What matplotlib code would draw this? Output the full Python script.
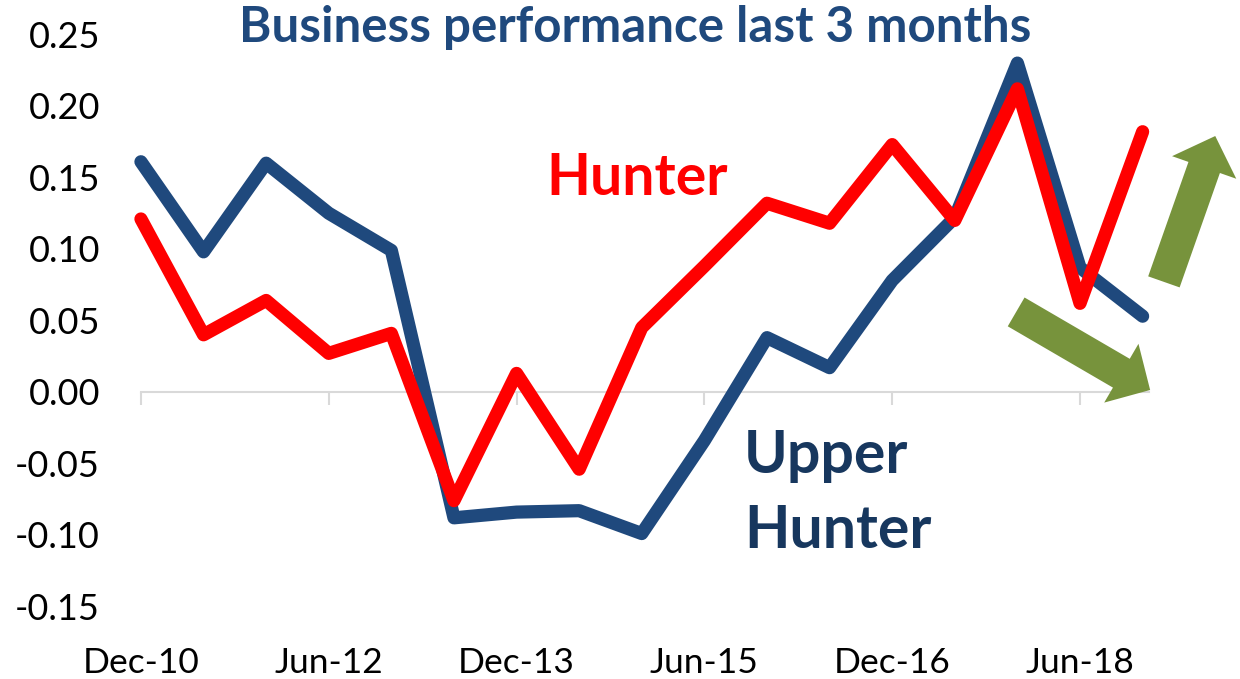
import matplotlib
matplotlib.use("Agg")
import matplotlib.pyplot as plt
from matplotlib.patches import FancyArrowPatch

plt.rcParams['font.family'] = ['Lato', 'DejaVu Sans']

# half-yearly periods, Dec-10 .. Dec-18
periods = ['Dec-10', 'Jun-11', 'Dec-11', 'Jun-12', 'Dec-12', 'Jun-13', 'Dec-13',
           'Jun-14', 'Dec-14', 'Jun-15', 'Dec-15', 'Jun-16', 'Dec-16', 'Jun-17',
           'Dec-17', 'Jun-18', 'Dec-18']
upper_hunter = [0.161, 0.098, 0.160, 0.125, 0.099, -0.088, -0.084, -0.083, -0.099,
                -0.034, 0.038, 0.017, 0.078, 0.122, 0.230, 0.087, 0.053]
hunter = [0.121, 0.040, 0.064, 0.027, 0.041, -0.076, 0.013, -0.054, 0.045,
          0.088, 0.132, 0.118, 0.173, 0.120, 0.212, 0.062, 0.182]
yticks = [-0.15, -0.10, -0.05, 0.00, 0.05, 0.10, 0.15, 0.20, 0.25]
label_every = 3

BLUE = '#1F497D'
NAVY = '#17375E'
RED = '#FF0000'
GREEN = '#77933C'
GRID = '#D9D9D9'

fig = plt.figure(figsize=(12.4, 6.79), dpi=100)
ax = fig.add_axes([0.1086, 0.1068, 0.8886, 0.8424])

x = list(range(len(periods)))
ax.plot(x, upper_hunter, color=BLUE, lw=9.5, solid_joinstyle='round',
        solid_capstyle='round', clip_on=False, zorder=3)
ax.plot(x, hunter, color=RED, lw=9.5, solid_joinstyle='round',
        solid_capstyle='round', clip_on=False, zorder=4)

ax.set_xlim(-0.1, 17.5)
ax.set_ylim(-0.15, 0.25)

for s in ['top', 'right', 'left']:
    ax.spines[s].set_visible(False)
ax.spines['bottom'].set_position(('data', 0))
ax.spines['bottom'].set_bounds(0, len(periods) - 0.9)
ax.spines['bottom'].set_color(GRID)
ax.spines['bottom'].set_linewidth(1.5)

tick_pos = x[::label_every]
ax.set_xticks(tick_pos)
ax.tick_params(axis='x', direction='out', length=9, width=1.5, color=GRID,
               labelbottom=False)
ax.set_yticks(yticks)
ax.set_yticklabels([f'{v:.2f}' for v in yticks])
ax.tick_params(axis='y', length=0, pad=25, labelsize=26)

sec = ax.secondary_xaxis('bottom')
sec.set_xticks(tick_pos)
sec.set_xticklabels([periods[i] for i in tick_pos])
sec.tick_params(length=0, pad=29, labelsize=25.5)
sec.spines['bottom'].set_visible(False)

# series labels
ax.text(6.47, 0.138, 'Hunter', color=RED, fontsize=41, fontweight='bold',
        ha='left', va='baseline')
ax.text(9.63, -0.0566, 'Upper', color=NAVY, fontsize=42.5, fontweight='bold',
        ha='left', va='baseline')
ax.text(9.63, -0.109, 'Hunter', color=NAVY, fontsize=42.5, fontweight='bold',
        ha='left', va='baseline')

fig.text(0.512, 0.938, 'Business performance last 3 months', color=BLUE,
         fontsize=35.5, fontweight='bold', ha='center', va='baseline')

# direction arrows
style = 'simple,head_length=24,head_width=49,tail_width=24'
for start, end in [((16.34, 0.077), (17.16, 0.179)),
                   ((13.98, 0.056), (16.12, 0.0014))]:
    arr = FancyArrowPatch(start, end, arrowstyle=style, mutation_scale=1,
                          color=GREEN, lw=0, shrinkA=0, shrinkB=0,
                          clip_on=False, zorder=5)
    ax.add_patch(arr)

fig.savefig('out.png', dpi=100)
